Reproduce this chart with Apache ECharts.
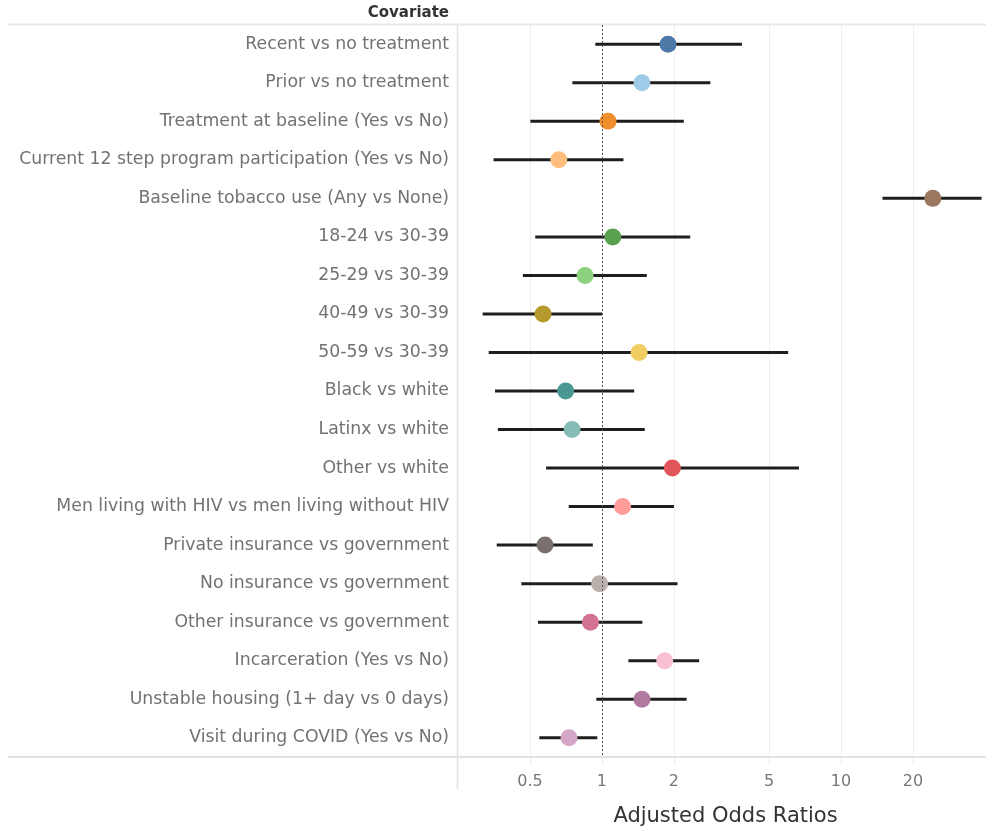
<!DOCTYPE html>
<html>
<head>
<meta charset="utf-8">
<script src="https://cdn.jsdelivr.net/npm/echarts@6/dist/echarts.min.js"></script>
<style>
  html, body { margin: 0; padding: 0; background: #ffffff; }
  #chart { width: 986px; height: 832px; }
</style>
</head>
<body>
<div id="chart"></div>
<script>
const categories = [
  'Recent vs no treatment',
  'Prior vs no treatment',
  'Treatment at baseline (Yes vs No)',
  'Current 12 step program participation (Yes vs No)',
  'Baseline tobacco use (Any vs None)',
  '18-24 vs 30-39',
  '25-29 vs 30-39',
  '40-49 vs 30-39',
  '50-59 vs 30-39',
  'Black vs white',
  'Latinx vs white',
  'Other vs white',
  'Men living with HIV vs men living without HIV',
  'Private insurance vs government',
  'No insurance vs government',
  'Other insurance vs government',
  'Incarceration (Yes vs No)',
  'Unstable housing (1+ day vs 0 days)',
  'Visit during COVID (Yes vs No)'
];
const estimates = [1.89, 1.47, 1.06, 0.66, 24.2, 1.11, 0.85, 0.567, 1.43, 0.705, 0.75, 1.97, 1.22, 0.578, 0.978, 0.895, 1.83, 1.47, 0.728];
const lowerCI   = [0.938, 0.752, 0.502, 0.352, 14.9, 0.526, 0.467, 0.317, 0.336, 0.357, 0.367, 0.584, 0.726, 0.363, 0.46, 0.54, 1.29, 0.947, 0.547];
const upperCI   = [3.85, 2.84, 2.2, 1.23, 38.7, 2.34, 1.54, 1.0, 6.01, 1.364, 1.51, 6.67, 2.0, 0.916, 2.07, 1.476, 2.55, 2.26, 0.956];
const pointColors = ['#4e79a7', '#a0cbe8', '#f28e2b', '#ffbe7d', '#9d7660', '#59a14f', '#8cd17d', '#b6992d', '#f1ce63', '#499894', '#86bcb6', '#e15759', '#ff9d9a', '#79706e', '#bab0ac', '#d37295', '#fabfd2', '#b07aa1', '#d4a6c8'];
const tickValues = [0.5, 1, 2, 5, 10, 20];
const referenceValue = 1;

const FONT = '"DejaVu Sans", "Open Sans", sans-serif';

const chart = echarts.init(document.getElementById('chart'), null, { renderer: 'canvas' });

const option = {
  backgroundColor: '#ffffff',
  animation: false,
  textStyle: { fontFamily: FONT },
  grid: { left: 458, right: 1, top: 25, bottom: 75, containLabel: false },
  xAxis: {
    type: 'log',
    logBase: 10,
    min: 0.25,
    max: 40,
    axisLine: { show: true, lineStyle: { color: '#e2e2e2', width: 2 } },
    axisTick: { show: true, customValues: tickValues, length: 8, lineStyle: { color: '#ececec' } },
    minorTick: { show: false },
    axisLabel: {
      customValues: tickValues,
      formatter: function (v) { return String(v); },
      fontSize: 16,
      color: '#777777',
      fontFamily: FONT,
      margin: 17
    },
    splitLine: { show: true, lineStyle: { color: '#efefef', width: 1 } },
    name: 'Adjusted Odds Ratios',
    nameLocation: 'middle',
    nameGap: 49,
    nameTextStyle: { fontSize: 21, color: '#333333', fontFamily: FONT, padding: [0, 0, 0, 8] }
  },
  yAxis: {
    type: 'category',
    inverse: true,
    data: categories,
    axisLine: { show: false },
    axisTick: { show: false },
    splitLine: { show: false },
    axisLabel: { fontSize: 17.3, color: '#727272', fontFamily: FONT, margin: 9 }
  },
  graphic: [
    { type: 'line', z: 0, shape: { x1: 8, y1: 24.5, x2: 986, y2: 24.5 }, style: { stroke: '#e8e8e8', lineWidth: 2 } },
    { type: 'line', z: 0, shape: { x1: 8, y1: 757, x2: 458, y2: 757 }, style: { stroke: '#e2e2e2', lineWidth: 2 } },
    { type: 'line', z: 0, shape: { x1: 457.5, y1: 24, x2: 457.5, y2: 789 }, style: { stroke: '#e2e2e2', lineWidth: 1.5 } },
    { type: 'text', z: 5, style: { x: 449, y: 13, text: 'Covariate', textAlign: 'right', textVerticalAlign: 'middle', font: 'bold 15px ' + FONT, fill: '#333333' } }
  ],
  series: [
    {
      type: 'custom',
      z: 2,
      coordinateSystem: 'cartesian2d',
      dimensions: ['lower', 'category', 'upper'],
      encode: { x: 0, y: 1 },
      data: categories.map(function (c, i) { return [lowerCI[i], c, upperCI[i]]; }),
      renderItem: function (params, api) {
        const y = api.value(1);
        const p1 = api.coord([api.value(0), y]);
        const p2 = api.coord([api.value(2), y]);
        return {
          type: 'line',
          shape: { x1: p1[0], y1: p1[1], x2: p2[0], y2: p2[1] },
          style: { stroke: '#1e1e1e', lineWidth: 3, lineCap: 'butt' }
        };
      },
      markLine: {
        silent: true,
        symbol: 'none',
        label: { show: false },
        lineStyle: { type: [2, 2], color: '#555555', width: 1 },
        data: [{ xAxis: referenceValue }]
      }
    },
    {
      type: 'scatter',
      z: 3,
      symbol: 'circle',
      symbolSize: 17,
      data: estimates.map(function (v, i) {
        return { value: [v, categories[i]], itemStyle: { color: pointColors[i], opacity: 1 } };
      })
    }
  ]
};

chart.setOption(option);
</script>
</body>
</html>
